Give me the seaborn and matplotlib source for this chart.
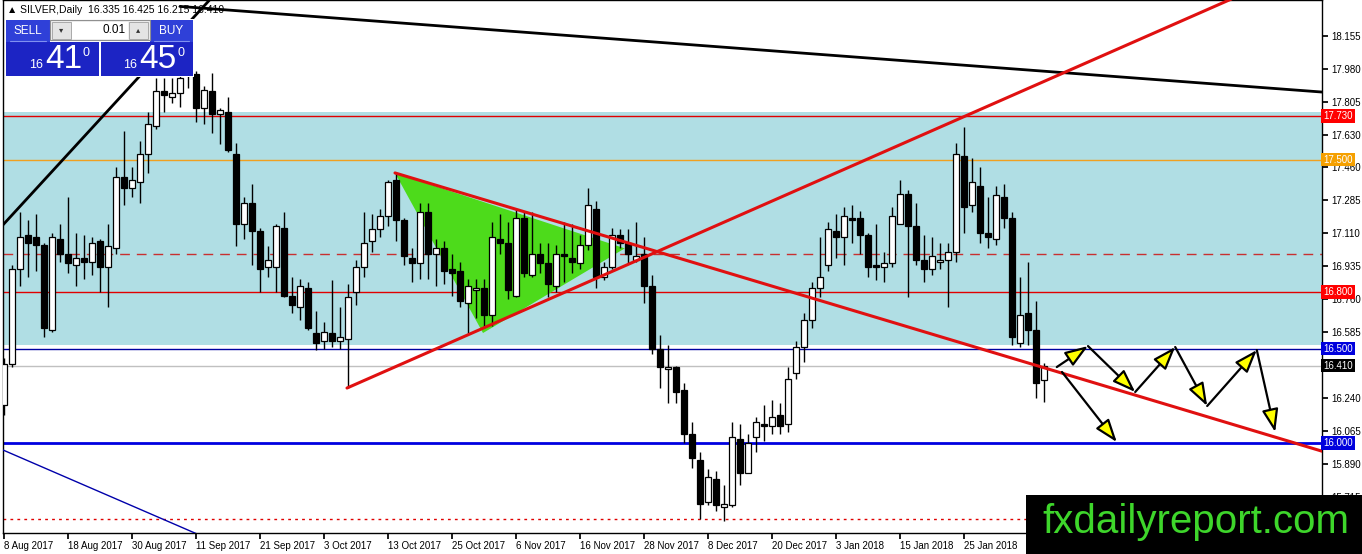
import numpy as np
import pandas as pd
import matplotlib
matplotlib.use('Agg')
import matplotlib.pyplot as plt
from matplotlib.patches import Rectangle, Polygon
import seaborn as sns


##################################################################
# DATA
##################################################################

# daily candles, 8 Aug 2017 -> 6 Feb 2018
opens = [16.20, 16.42, 16.92, 17.10, 17.09, 17.05, 16.60, 17.08, 17.00, 16.94,
         16.98, 16.96, 17.07, 16.93, 17.03, 17.41, 17.35, 17.38, 17.53, 17.68,
         17.86, 17.83, 17.85, 17.98, 17.95, 17.77, 17.86, 17.74, 17.75, 17.53,
         17.16, 17.27, 17.12, 16.93, 16.93, 17.14, 16.78, 16.72, 16.82, 16.58,
         16.54, 16.58, 16.54, 16.55, 16.80, 16.93, 17.07, 17.13, 17.20, 17.39,
         17.18, 16.98, 16.95, 17.22, 17.00, 17.03, 16.92, 16.91, 16.74, 16.81,
         16.82, 16.68, 17.08, 17.06, 16.78, 17.19, 16.89, 17.00, 16.95, 16.83,
         17.00, 16.98, 16.95, 17.05, 17.24, 16.88, 16.93, 17.10, 17.06, 16.97,
         17.00, 16.83, 16.50, 16.39, 16.40, 16.28, 16.05, 15.91, 15.69, 15.81,
         15.66, 15.67, 16.02, 15.84, 16.03, 16.10, 16.09, 16.15, 16.10, 16.37,
         16.51, 16.65, 16.82, 16.94, 17.12, 17.09, 17.19, 17.19, 17.10, 16.94,
         16.93, 16.95, 17.16, 17.32, 17.15, 16.97, 16.92, 16.96, 16.97, 17.01,
         17.52, 17.26, 17.36, 17.11, 17.08, 17.30, 17.19, 16.53, 16.69, 16.60,
         16.335]
highs = [16.45, 16.94, 17.22, 17.18, 17.21, 17.06, 17.11, 17.16, 17.30, 17.11,
         17.10, 17.09, 17.08, 17.16, 17.46, 17.65, 17.46, 17.60, 17.75, 17.93,
         17.93, 17.93, 17.95, 18.00, 17.97, 17.89, 17.96, 17.77, 17.83, 17.59,
         17.30, 17.37, 17.14, 17.04, 17.16, 17.22, 16.88, 16.87, 16.85, 16.70,
         16.64, 16.86, 16.72, 16.84, 16.97, 17.22, 17.21, 17.24, 17.39, 17.43,
         17.19, 17.03, 17.27, 17.27, 17.08, 17.07, 17.00, 16.96, 16.87, 16.87,
         16.87, 17.17, 17.21, 17.17, 17.24, 17.22, 17.22, 17.06, 17.06, 17.05,
         17.17, 17.16, 17.10, 17.35, 17.28, 16.96, 17.14, 17.13, 17.13, 17.17,
         17.09, 16.89, 16.57, 16.52, 16.41, 16.32, 16.11, 15.95, 15.86, 15.85,
         15.78, 16.11, 16.10, 16.05, 16.14, 16.20, 16.23, 16.21, 16.40, 16.54,
         16.69, 16.85, 17.09, 17.17, 17.21, 17.25, 17.26, 17.23, 17.11, 17.16,
         17.01, 17.25, 17.39, 17.34, 17.27, 17.10, 17.09, 17.06, 17.06, 17.59,
         17.67, 17.51, 17.46, 17.30, 17.36, 17.37, 17.22, 16.88, 16.96, 16.75,
         16.425]
lows = [16.15, 16.40, 16.83, 16.88, 16.91, 16.56, 16.59, 16.96, 16.90, 16.83,
        16.87, 16.89, 16.80, 16.72, 17.00, 17.26, 17.30, 17.27, 17.43, 17.66,
        17.75, 17.80, 17.78, 17.88, 17.70, 17.69, 17.64, 17.58, 17.54, 17.04,
        17.08, 16.94, 16.80, 16.88, 16.80, 16.77, 16.69, 16.65, 16.60, 16.49,
        16.50, 16.51, 16.50, 16.29, 16.73, 16.88, 17.01, 17.09, 17.15, 17.07,
        16.94, 16.85, 16.87, 16.87, 16.83, 16.84, 16.78, 16.72, 16.58, 16.66,
        16.61, 16.62, 17.00, 16.76, 16.77, 16.88, 16.88, 16.90, 16.77, 16.80,
        16.85, 16.90, 16.92, 17.02, 16.82, 16.86, 16.92, 17.03, 16.95, 16.96,
        16.74, 16.47, 16.29, 16.21, 16.21, 16.00, 15.87, 15.60, 15.67, 15.64,
        15.59, 15.66, 15.78, 15.84, 15.95, 16.01, 16.05, 16.05, 16.06, 16.34,
        16.43, 16.61, 16.77, 16.91, 16.98, 16.94, 17.06, 17.00, 16.88, 16.86,
        16.85, 16.93, 17.16, 16.77, 16.94, 16.85, 16.89, 16.92, 16.72, 16.96,
        17.11, 17.22, 17.06, 17.03, 17.05, 17.14, 16.52, 16.51, 16.52, 16.24,
        16.215]
closes = [16.42, 16.92, 17.09, 17.06, 17.05, 16.61, 17.09, 17.00, 16.95, 16.98,
          16.96, 17.06, 16.93, 17.04, 17.41, 17.35, 17.39, 17.53, 17.69, 17.86,
          17.84, 17.85, 17.93, 17.95, 17.77, 17.87, 17.74, 17.76, 17.55, 17.16,
          17.27, 17.12, 16.92, 16.97, 17.15, 16.78, 16.73, 16.83, 16.61, 16.53,
          16.59, 16.54, 16.56, 16.77, 16.93, 17.06, 17.13, 17.20, 17.38, 17.18,
          16.99, 16.95, 17.22, 17.00, 17.03, 16.91, 16.90, 16.75, 16.83, 16.82,
          16.68, 17.09, 17.06, 16.81, 17.19, 16.90, 17.00, 16.95, 16.84, 17.00,
          16.99, 16.96, 17.05, 17.26, 16.88, 16.93, 17.10, 17.06, 17.00, 16.99,
          16.83, 16.50, 16.40, 16.40, 16.27, 16.05, 15.92, 15.68, 15.82, 15.67,
          15.68, 16.03, 15.84, 16.00, 16.11, 16.09, 16.14, 16.09, 16.34, 16.51,
          16.65, 16.82, 16.88, 17.13, 17.09, 17.20, 17.18, 17.10, 16.93, 16.93,
          16.95, 17.20, 17.32, 17.15, 16.97, 16.92, 16.99, 16.97, 17.01, 17.53,
          17.25, 17.38, 17.11, 17.09, 17.31, 17.19, 16.56, 16.68, 16.60, 16.32,
          16.41]

date_labels = ['8 Aug 2017', '18 Aug 2017', '30 Aug 2017', '11 Sep 2017',
               '21 Sep 2017', '3 Oct 2017', '13 Oct 2017', '25 Oct 2017',
               '6 Nov 2017', '16 Nov 2017', '28 Nov 2017', '8 Dec 2017',
               '20 Dec 2017', '3 Jan 2018', '15 Jan 2018', '25 Jan 2018']

# the 16.410 tick sits under the bid tag, so it gets no label of its own
price_ticks = [18.155, 17.980, 17.805, 17.630, 17.460, 17.285, 17.110, 16.935,
               16.760, 16.585, 16.240, 16.065, 15.890, 15.715]

# horizontal levels drawn on the chart
zone_top, zone_bottom = 17.75, 16.52
level_prices = [17.730, 17.500, 16.800, 16.500, 16.000]
level_colors = ['#e00000', '#f0a020', '#e00000', '#0000a0', '#0000e0']
level_widths = [1, 1, 1, 1, 2]
bid_price = 16.410
mid_dash_price = 17.00
low_dot_price = 15.60

# trend lines (bar index, price)
black_top_x, black_top_y = [22, 164.75], [18.31, 17.857]
black_rise_x, black_rise_y = [-0.5, 26], [17.137, 18.358]
blue_diag_x, blue_diag_y = [-0.5, 25], [15.970, 15.503]
red_up_x, red_up_y = [42.875, 154], [16.291, 18.360]
red_down_x, red_down_y = [48.875, 166], [17.429, 15.941]
wedge_x, wedge_y = [48.875, 59.875, 77.6], [17.429, 16.582, 17.03]

# projected path arrows: start bar, start price, end bar, end price
arrows = [(131.6, 16.402, 135.5, 16.513),
          (135.5, 16.513, 141.4, 16.270),
          (141.4, 16.270, 146.4, 16.508),
          (146.4, 16.508, 150.4, 16.196),
          (150.4, 16.196, 156.6, 16.492),
          (156.6, 16.492, 158.9, 16.058),
          (132.25, 16.376, 139.1, 16.005)]

df = pd.DataFrame({'open': opens, 'high': highs, 'low': lows, 'close': closes})
df['bar'] = np.arange(len(df))
df['up'] = df['close'] >= df['open']


##################################################################
# PLOT
##################################################################

sns.set_theme(style='white')
plt.rcParams['font.family'] = ['Liberation Sans', 'DejaVu Sans']

W, H = 1362, 554
fig = plt.figure(figsize=(W / 100, H / 100), dpi=100)
ax = fig.add_axes([3 / W, 21 / H, 1319 / W, 533 / H])
ax.set_facecolor('white')

# support / resistance zone
ax.axhspan(zone_bottom, zone_top, color='#b0dee4', zorder=0.5, lw=0)

for p, c, w in zip(level_prices, level_colors, level_widths):
    ax.axhline(p, color=c, lw=w, zorder=1)
ax.axhline(bid_price, color='#c0c0c0', lw=1, zorder=1)
ax.axhline(mid_dash_price, color='#c83030', lw=1, ls=(0, (7, 5)), zorder=1)
ax.axhline(low_dot_price, color='#e00000', lw=1, ls=(0, (2, 3)), zorder=1)

# green wedge
ax.add_patch(Polygon(list(zip(wedge_x, wedge_y)), closed=True,
                     fc='#4ddb1b', ec='none', zorder=1.5))

# candles
ax.vlines(df['bar'], df['low'], df['high'], color='black', lw=1, zorder=2)
body_bottom = df[['open', 'close']].min(axis=1)
body_height = (df['close'] - df['open']).abs().clip(lower=0.004)
ax.bar(df['bar'], body_height, bottom=body_bottom, width=0.65,
       color=np.where(df['up'], 'white', 'black'), edgecolor='black',
       linewidth=0.9, zorder=3)

# trend lines
sns.lineplot(x=black_top_x, y=black_top_y, ax=ax, color='black', lw=2, sort=False, zorder=4)
sns.lineplot(x=black_rise_x, y=black_rise_y, ax=ax, color='black', lw=2, sort=False, zorder=4)
sns.lineplot(x=blue_diag_x, y=blue_diag_y, ax=ax, color='#0000aa', lw=1, sort=False, zorder=4)
sns.lineplot(x=red_up_x, y=red_up_y, ax=ax, color='#e01010', lw=2.2, sort=False, zorder=4)
sns.lineplot(x=red_down_x, y=red_down_y, ax=ax, color='#e01010', lw=2.2, sort=False, zorder=4)

for x0, y0, x1, y1 in arrows:
    ax.annotate('', xy=(x1, y1), xytext=(x0, y0), zorder=6,
                arrowprops=dict(arrowstyle='-|>,head_length=1.4,head_width=0.5',
                                fc='yellow', ec='black', lw=1.6,
                                shrinkA=0, shrinkB=0, mutation_scale=10))

ax.set_xlim(-0.125, 164.75)
ax.set_ylim(15.524, 18.344)

# axes like MT4
for s in ax.spines.values():
    s.set_color('black')
    s.set_linewidth(1)
ax.yaxis.tick_right()
ax.set_yticks(price_ticks)
ax.set_yticklabels([f'{t:.3f}' for t in price_ticks])
ax.tick_params(axis='y', right=True, left=False, direction='out', length=4,
               pad=3, labelsize=7, colors='black')
ax.set_xticks(np.arange(0, 8 * len(date_labels), 8))
ax.set_xticklabels(date_labels, ha='left')
ax.tick_params(axis='x', bottom=True, direction='out', length=4, pad=2,
               labelsize=7, colors='black')
ax.set_xlabel('')
ax.set_ylabel('')
ax.grid(False)

# price tags on the right axis
tags = [(17.730, '#ff0000'), (17.500, '#f5a000'), (16.800, '#ff0000'),
        (16.500, '#0000dd'), (bid_price, 'black'), (16.000, '#0000dd')]
for p, c in tags:
    ax.text(1.001, p, f'{p:.3f}', transform=ax.get_yaxis_transform(),
            ha='left', va='center', fontsize=7, color='white', zorder=10,
            clip_on=False,
            bbox=dict(boxstyle='square,pad=0.2', fc=c, ec='none'))

##################################################################
# OVERLAY: trade panel, title and watermark (pixel coordinates)
##################################################################

ov = fig.add_axes([0, 0, 1, 1])
ov.set_xlim(0, W)
ov.set_ylim(H, 0)
ov.axis('off')
ov.patch.set_alpha(0)

ov.text(7, 10, '\u25b2 SILVER,Daily  16.335 16.425 16.215 16.410',
        fontsize=7.5, color='black', va='center', ha='left', zorder=1)

ov.add_patch(Rectangle((5, 19), 189, 58, fc='white', ec='none', zorder=2))
btn = '#2f40d8'
price_box = '#1c24c4'
ov.add_patch(Rectangle((6, 20), 44, 22, fc=btn, ec='none', zorder=3))
ov.add_patch(Rectangle((150, 20), 43, 22, fc=btn, ec='none', zorder=3))
ov.add_patch(Rectangle((50, 20), 100, 20, fc='#f0f0f0', ec='#909090', lw=0.8, zorder=3))
ov.add_patch(Rectangle((52, 21.5), 19, 17, fc='#e4e4e4', ec='#a0a0a0', lw=0.6, zorder=4))
ov.add_patch(Rectangle((72, 21.5), 56, 17, fc='white', ec='none', zorder=4))
ov.add_patch(Rectangle((129, 21.5), 19, 17, fc='#e4e4e4', ec='#a0a0a0', lw=0.6, zorder=4))
ov.add_patch(Rectangle((6, 42), 93, 34, fc=price_box, ec='none', zorder=3))
ov.add_patch(Rectangle((101, 42), 92, 34, fc=price_box, ec='none', zorder=3))
ov.plot([10, 46], [41, 41], color='#8090f0', lw=0.8, zorder=5)
ov.plot([154, 189], [41, 41], color='#8090f0', lw=0.8, zorder=5)

ov.text(28, 31, 'SELL', color='white', fontsize=8.5, ha='center', va='center', zorder=6)
ov.text(171, 31, 'BUY', color='white', fontsize=8.5, ha='center', va='center', zorder=6)
ov.text(61.5, 30, '\u25be', color='#333333', fontsize=6, ha='center', va='center',
        family=['DejaVu Sans'], zorder=6)
ov.text(138.5, 30, '\u25b4', color='#333333', fontsize=6, ha='center', va='center',
        family=['DejaVu Sans'], zorder=6)
ov.text(126, 30, '0.01', color='black', fontsize=8.5, ha='right', va='center', zorder=6)

ov.text(36.5, 65, '16', color='white', fontsize=9, ha='center', va='center', zorder=6)
ov.text(64, 60, '41', color='white', fontsize=24, ha='center', va='center', zorder=6)
ov.text(86, 53, '0', color='white', fontsize=9, ha='center', va='center', zorder=6)
ov.text(130, 65, '16', color='white', fontsize=9, ha='center', va='center', zorder=6)
ov.text(158, 60, '45', color='white', fontsize=24, ha='center', va='center', zorder=6)
ov.text(181, 53, '0', color='white', fontsize=9, ha='center', va='center', zorder=6)

# watermark
ov.add_patch(Rectangle((1026, 495), W - 1026, H - 495, fc='black', ec='none', zorder=7))
ov.text(1042, 533, 'fxdailyreport.com', color='#3ed62b', fontsize=29,
        ha='left', va='baseline', zorder=8)

fig.savefig('out.png', dpi=100)
